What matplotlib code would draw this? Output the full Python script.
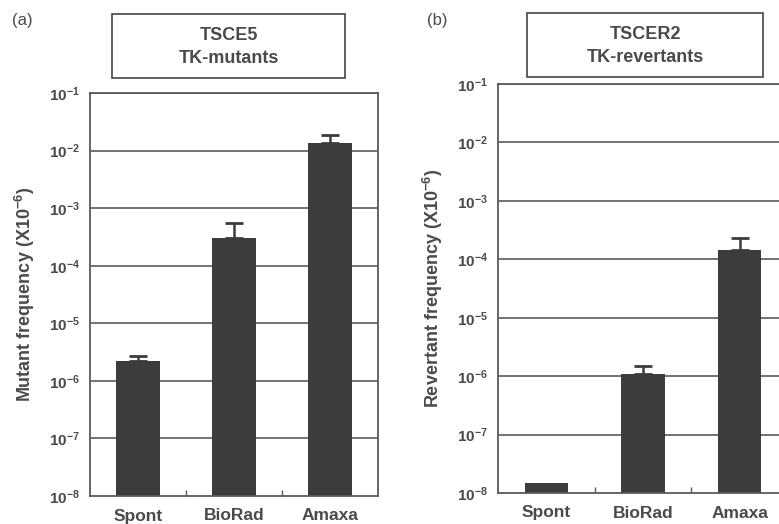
"""TK mutant / revertant frequencies (TSCE5, TSCER2), two log-scale bar panels."""
import numpy as np
import matplotlib
matplotlib.use('Agg')
import matplotlib.pyplot as plt
from matplotlib import rcParams
from matplotlib.patches import Rectangle

rcParams.update({
    'font.family': 'Liberation Sans', 'font.weight': 'bold', 'axes.labelweight': 'bold',
    'mathtext.fontset': 'custom', 'mathtext.rm': 'Liberation Sans:bold',
    'mathtext.bf': 'Liberation Sans:bold', 'mathtext.it': 'Liberation Sans:bold',
})
TXT = '#4a4a4a'; BAR = '#3c3c3c'; GRID = '#5a5a5a'

categories = ['Spont', 'BioRad', 'Amaxa']
mut_vals = [2.2e-6, 3.0e-4, 1.34e-2]
mut_err = [0.55e-6, 2.5e-4, 0.52e-2]
rev_vals = [1.5e-8, 1.1e-6, 1.45e-4]
rev_err = [0.0, 0.4e-6, 0.9e-4]
ylabels = ['Mutant frequency (X10$^{-6}$)', 'Revertant frequency (X10$^{-6}$)']
titles = ['TSCE5\nTK-mutants', 'TSCER2\nTK-revertants']
letters = ['(a)', '(b)']
decades = np.arange(-8, 0)

W, H = 779, 524
fig = plt.figure(figsize=(W/100, H/100), dpi=100)

panels = [
    dict(rect=[90, 93, 288, 403], vals=mut_vals, err=mut_err,
         box=[112, 14, 233, 64], letter=(12, 20)),
    dict(rect=[498, 84, 290, 409], vals=rev_vals, err=rev_err,
         box=[527, 13, 236, 64], letter=(427, 20)),
]

for i, p in enumerate(panels):
    x0, y0, w, h = p['rect']
    ax = fig.add_axes([x0/W, 1 - (y0+h)/H, w/W, h/H])
    ax.set_yscale('log')
    ax.set_ylim(1e-8, 1e-1)
    ax.set_xlim(-0.5, 2.5)
    x = np.arange(len(categories))
    vals = np.array(p['vals']); err = np.array(p['err'])
    for d in decades[1:]:
        ax.axhline(10.0**d, color=GRID, lw=1.2, zorder=1)
    ax.bar(x, vals - 1e-8, bottom=1e-8, width=0.45, color=BAR, zorder=2)
    has = err > 0
    ax.errorbar(x[has], vals[has], yerr=[np.zeros(has.sum()), err[has]], fmt='none',
                ecolor=BAR, elinewidth=1.8, capsize=6.5, capthick=2.0, zorder=3)
    ax.set_yticks([10.0**d for d in range(-8, 0)])
    ax.set_yticklabels([r'$10^{%d}$' % d for d in range(-8, 0)])
    ax.minorticks_off()
    ax.tick_params(axis='y', length=0, pad=7, labelsize=11, labelcolor=TXT)
    ax.set_xticks(x)
    ax.set_xticklabels(categories)
    ax.tick_params(axis='x', length=0, pad=9, labelsize=12.5, labelcolor=TXT)
    ax.set_xticks([0.5, 1.5], minor=True)
    ax.tick_params(axis='x', which='minor', direction='in', length=4, width=1, color=GRID)
    for s in ax.spines.values():
        s.set_color(GRID); s.set_linewidth(1.3)
    ax.set_ylabel(ylabels[i], fontsize=13, color=TXT, labelpad=9)

    bx, by, bw, bh = p['box']
    fig.patches.append(Rectangle((bx/W, 1 - (by+bh)/H), bw/W, bh/H, transform=fig.transFigure,
                                 fill=False, edgecolor='#444444', lw=1.2))
    fig.text((bx + bw/2)/W, 1 - (by + bh/2 + 1)/H, titles[i], ha='center', va='center',
             fontsize=13, color=TXT, linespacing=1.45)
    lx, ly = p['letter']
    fig.text(lx/W, 1 - ly/H, letters[i], ha='left', va='center', fontsize=12,
             fontweight='normal', color=TXT)

fig.savefig('out.png', dpi=100)
